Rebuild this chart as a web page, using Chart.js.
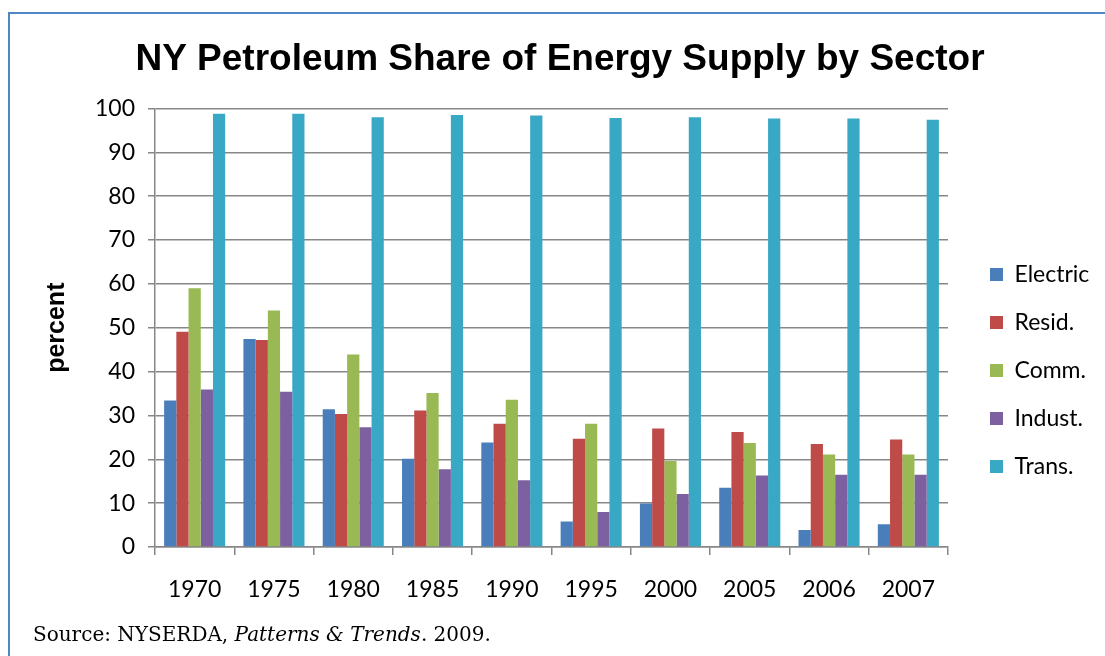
<!DOCTYPE html>
<html>
<head>
<meta charset="utf-8">
<script src="https://cdn.jsdelivr.net/npm/chart.js@4.4.1/dist/chart.umd.min.js"></script>
<style>
  body { margin: 0; background: #fff; }
  #wrap { position: relative; width: 1105px; height: 656px; overflow: hidden; }
  #frame { position: absolute; left: 8px; top: 12px; width: 1200px; height: 800px;
           border-left: 2px solid #4F86C6; border-top: 2px solid #4F86C6; }
  #box { position: absolute; left: 0; top: 0; width: 1105px; height: 656px; }
  #source { position: absolute; left: 33px; top: 622px; font: 20px 'DejaVu Serif', serif; color: #000; white-space: nowrap; }
</style>
</head>
<body>
<div id="wrap">
  <div id="frame"></div>
  <div id="box"><canvas id="chart"></canvas></div>
  <div id="source">Source: NYSERDA, <i>Patterns &amp; Trends</i>. 2009.</div>
</div>
<script>
// years on the x axis
const years = ['1970', '1975', '1980', '1985', '1990', '1995', '2000', '2005', '2006', '2007'];

// petroleum share (percent) per sector
const electric = [33.4, 47.4, 31.4, 20.1, 23.8, 5.8, 9.9, 13.5, 3.9, 5.2];
const resid = [49.1, 47.2, 30.3, 31.1, 28.1, 24.7, 27.0, 26.2, 23.5, 24.5];
const comm = [59.0, 53.9, 43.9, 35.1, 33.6, 28.1, 19.6, 23.7, 21.1, 21.1];
const indust = [35.9, 35.4, 27.3, 17.7, 15.2, 8.0, 12.1, 16.3, 16.5, 16.5];
const trans = [98.8, 98.8, 98.0, 98.5, 98.4, 97.8, 98.0, 97.7, 97.7, 97.4];

const gridGray = '#878787';
const labelFont = { family: 'Lato', size: 23 };

// put the legend where the original has it
const legendSpot = {
    id: 'legendSpot',
    afterLayout(chart) {
        const lg = chart.legend;
        if (!lg) return;
        lg.left = 965;
        lg.right = lg.left + lg.width;
        lg.top = 238;
        lg.bottom = 620;
    }
};

function series(label, values, color) {
    return { label: label, data: values, backgroundColor: color, borderWidth: 0 };
}

new Chart(document.getElementById('chart'), {
    type: 'bar',
    data: {
        labels: years,
        datasets: [
            series('Electric', electric, '#4A7EBB'),
            series('Resid.', resid, '#BE4B48'),
            series('Comm.', comm, '#98B954'),
            series('Indust.', indust, '#7D60A0'),
            series('Trans.', trans, '#38A8C5')
        ]
    },
    options: {
        responsive: true,
        maintainAspectRatio: false,
        animation: false,
        datasets: { bar: { categoryPercentage: 0.77, barPercentage: 1.0 } },
        layout: { padding: { left: 15, right: 0, top: 0, bottom: 39 } },
        plugins: {
            tooltip: { enabled: false },
            title: {
                display: true,
                text: 'NY Petroleum Share of Energy Supply by Sector',
                color: '#000',
                font: { family: 'Liberation Sans', size: 37, weight: 'bold' },
                padding: { top: 38, bottom: 26 }
            },
            legend: {
                position: 'right',
                align: 'start',
                labels: {
                    color: '#000',
                    font: labelFont,
                    boxWidth: 13,
                    boxHeight: 13,
                    padding: 25
                }
            }
        },
        scales: {
            x: {
                grid: { drawOnChartArea: false, drawTicks: true, tickLength: 8, color: gridGray, lineWidth: 1.5, offset: true },
                border: { color: gridGray, width: 1.5 },
                ticks: { color: '#000', font: labelFont, padding: 21, maxRotation: 0 },
                afterFit(scale) { scale.height = 70; }
            },
            y: {
                min: 0,
                max: 100,
                ticks: { stepSize: 10, color: '#000', font: labelFont, padding: 13 },
                grid: { color: gridGray, lineWidth: 1.5, tickLength: 7 },
                border: { color: gridGray, width: 1.5 },
                title: {
                    display: true,
                    text: 'percent',
                    color: '#000',
                    font: { family: 'Liberation Sans', size: 25, weight: 'bold' },
                    padding: { top: 27, bottom: 0 }
                },
                afterFit(scale) { scale.width = 140; }
            },
            // empty spacer between plot and legend
            gap: {
                type: 'linear',
                position: 'right',
                display: true,
                grid: { display: false },
                border: { display: false },
                ticks: { display: false },
                afterFit(scale) {
                    const lw = scale.chart.legend ? scale.chart.legend.width : 134;
                    scale.width = Math.max(0, 157 - lw);
                }
            }
        }
    },
    plugins: [legendSpot]
});
</script>
</body>
</html>
